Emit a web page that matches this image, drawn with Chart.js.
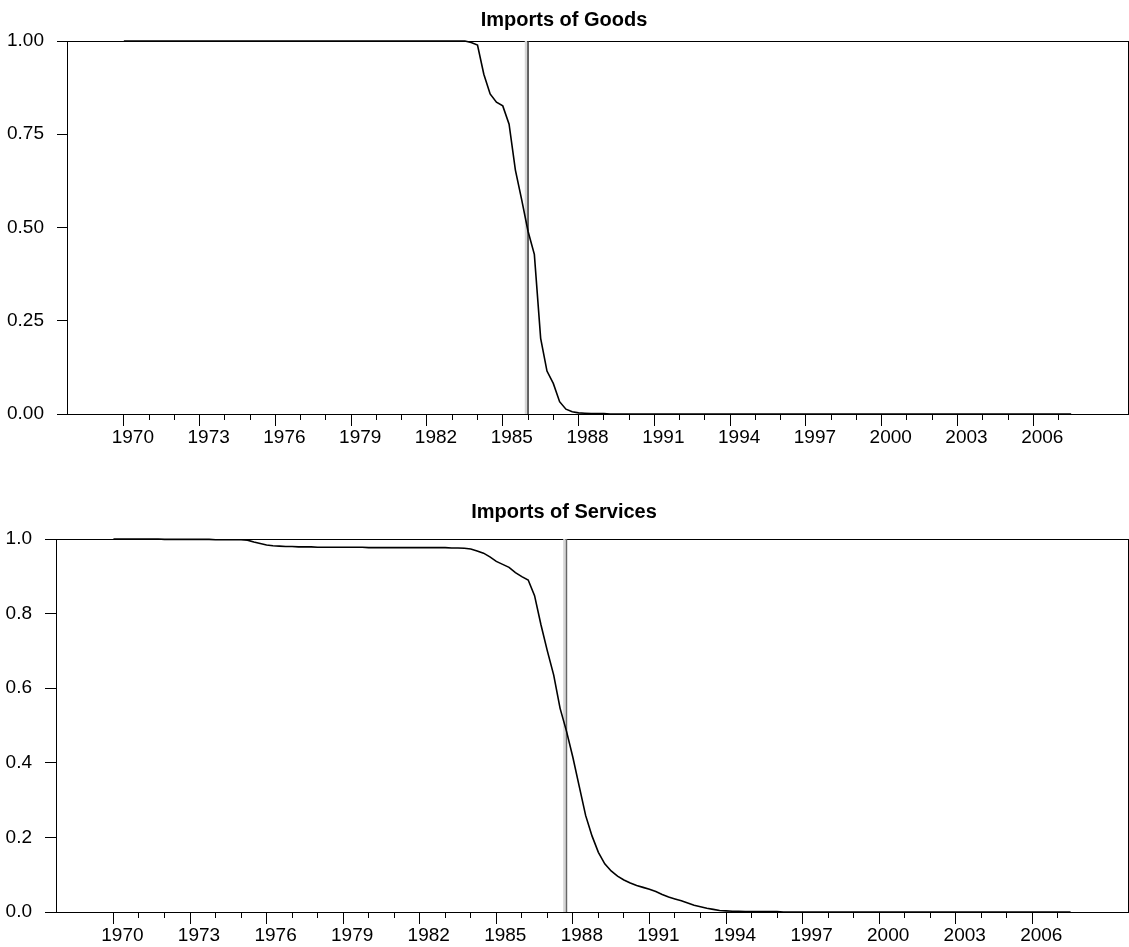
<!DOCTYPE html>
<html>
<head>
<meta charset="utf-8">
<script src="https://cdn.jsdelivr.net/npm/chart.js@4.4.1/dist/chart.umd.min.js"></script>
<style>
  html, body { margin: 0; padding: 0; background: #fff; overflow: hidden; }
  #wrap { position: relative; width: 1129px; height: 947px; }
  .panel { position: absolute; left: 0; }
  canvas { display: block; }
</style>
</head>
<body>
<div id="wrap">
  <div class="panel" style="top:0px"><canvas id="goodsChart" width="1129" height="470"></canvas></div>
  <div class="panel" style="top:467px"><canvas id="servicesChart" width="1129" height="480"></canvas></div>
</div>
<script>
// years of the quarterly sample (1970Q1 .. 2007Q3)
const sampleYears = [1970, 1971, 1972, 1973, 1974, 1975, 1976, 1977, 1978, 1979,
  1980, 1981, 1982, 1983, 1984, 1985, 1986, 1987, 1988, 1989,
  1990, 1991, 1992, 1993, 1994, 1995, 1996, 1997, 1998, 1999,
  2000, 2001, 2002, 2003, 2004, 2005, 2006, 2007];
const tickYears = sampleYears;
const labelYears = [1970, 1973, 1976, 1979, 1982, 1985, 1988, 1991, 1994, 1997, 2000, 2003, 2006];

// transition weights, four quarters per row
const goodsWeights = [
  1, 1, 1, 1,               // 1970
  1, 1, 1, 1,               // 1971
  1, 1, 1, 1,               // 1972
  1, 1, 1, 1,               // 1973
  1, 1, 1, 1,               // 1974
  1, 1, 1, 1,               // 1975
  1, 1, 1, 1,               // 1976
  1, 1, 1, 1,               // 1977
  1, 1, 1, 1,               // 1978
  1, 1, 1, 1,               // 1979
  1, 1, 1, 1,               // 1980
  1, 1, 1, 1,               // 1981
  1, 1, 1, 1,               // 1982
  1, 1, 1, 0.996,           // 1983
  0.989, 0.911, 0.858, 0.836, // 1984
  0.826, 0.777, 0.654, 0.574, // 1985
  0.490, 0.428, 0.203, 0.115, // 1986
  0.082, 0.033, 0.013, 0.006, // 1987
  0.003, 0.002, 0.001, 0.001, // 1988
  0.001, 0, 0, 0,           // 1989
  0, 0, 0, 0,               // 1990
  0, 0, 0, 0,               // 1991
  0, 0, 0, 0,               // 1992
  0, 0, 0, 0,               // 1993
  0, 0, 0, 0,               // 1994
  0, 0, 0, 0,               // 1995
  0, 0, 0, 0,               // 1996
  0, 0, 0, 0,               // 1997
  0, 0, 0, 0,               // 1998
  0, 0, 0, 0,               // 1999
  0, 0, 0, 0,               // 2000
  0, 0, 0, 0,               // 2001
  0, 0, 0, 0,               // 2002
  0, 0, 0, 0,               // 2003
  0, 0, 0, 0,               // 2004
  0, 0, 0, 0,               // 2005
  0, 0, 0, 0,               // 2006
  0, 0, 0                   // 2007
];

const servicesWeights = [
  1, 1, 1, 1,                 // 1970
  1, 1, 1, 1,                 // 1971
  0.999, 0.999, 0.999, 0.999, // 1972
  0.999, 0.999, 0.999, 0.999, // 1973
  0.998, 0.998, 0.998, 0.998, // 1974
  0.998, 0.997, 0.992, 0.988, // 1975
  0.984, 0.982, 0.981, 0.980, // 1976
  0.980, 0.979, 0.979, 0.979, // 1977
  0.978, 0.978, 0.978, 0.978, // 1978
  0.978, 0.978, 0.978, 0.978, // 1979
  0.977, 0.977, 0.977, 0.977, // 1980
  0.977, 0.977, 0.977, 0.977, // 1981
  0.977, 0.977, 0.977, 0.977, // 1982
  0.977, 0.976, 0.976, 0.975, // 1983
  0.973, 0.968, 0.962, 0.952, // 1984
  0.940, 0.932, 0.924, 0.910, // 1985
  0.899, 0.890, 0.848, 0.770, // 1986
  0.700, 0.635, 0.546, 0.485, // 1987
  0.415, 0.337, 0.259, 0.204, // 1988
  0.160, 0.129, 0.110, 0.096, // 1989
  0.086, 0.078, 0.071, 0.066, // 1990
  0.061, 0.055, 0.047, 0.040, // 1991
  0.035, 0.030, 0.024, 0.018, // 1992
  0.014, 0.010, 0.007, 0.004, // 1993
  0.003, 0.002, 0.002, 0.001, // 1994
  0.001, 0.001, 0.001, 0.001, // 1995
  0.001, 0, 0, 0,             // 1996
  0, 0, 0, 0,                 // 1997
  0, 0, 0, 0,                 // 1998
  0, 0, 0, 0,                 // 1999
  0, 0, 0, 0,                 // 2000
  0, 0, 0, 0,                 // 2001
  0, 0, 0, 0,                 // 2002
  0, 0, 0, 0,                 // 2003
  0, 0, 0, 0,                 // 2004
  0, 0, 0, 0,                 // 2005
  0, 0, 0, 0,                 // 2006
  0, 0, 0                     // 2007
];

const goodsBreak = 1986.0;
const servicesBreak = 1987.75;
const axisStart = 1967.75;
const axisEnd = 2009.75;

const fontFamily = '"Liberation Sans", Arial, Helvetica, sans-serif';

// quarter dates: year + 0, .25, .5, .75
const quarterDates = sampleYears.flatMap(y => [y, y + 0.25, y + 0.5, y + 0.75]);

// box around plot + short minor ticks on the date axis
const frameAndTicks = {
  id: 'frameAndTicks',
  beforeDatasetsDraw(chart) {
    const ctx = chart.ctx, a = chart.chartArea, x = chart.scales.x;
    ctx.save();
    ctx.strokeStyle = '#000';
    ctx.lineWidth = 1;
    ctx.strokeRect(Math.floor(a.left) + 0.5, Math.floor(a.top) + 0.5,
                   Math.floor(a.right) - Math.floor(a.left), Math.floor(a.bottom) - Math.floor(a.top));
    ctx.beginPath();
    tickYears.forEach(yr => {
      if (labelYears.includes(yr)) return;
      const px = Math.floor(x.getPixelForValue(yr)) + 0.5;
      ctx.moveTo(px, a.bottom);
      ctx.lineTo(px, a.bottom + 6);
    });
    ctx.stroke();
    ctx.restore();
  }
};

function makeChart(id, opt) {
  const points = opt.values.map((v, i) => ({ x: quarterDates[i], y: v }));
  return new Chart(document.getElementById(id), {
    type: 'line',
    data: {
      datasets: [
        { data: points, borderColor: '#000', borderWidth: 1.6, pointRadius: 0, tension: 0,
          clip: false, order: 0 },
        { data: [{ x: opt.breakYear, y: 0 }, { x: opt.breakYear, y: 1 }],
          borderColor: opt.breakColor, borderWidth: 1.5, pointRadius: 0, order: 1 },
        { data: [{ x: opt.breakYear - 0.08, y: 0 }, { x: opt.breakYear - 0.08, y: 1 }],
          borderColor: '#d6d6d6', borderWidth: 2.5, pointRadius: 0, order: 2 }
      ]
    },
    options: {
      responsive: false,
      animation: false,
      devicePixelRatio: 1,
      layout: { padding: { left: 0, right: 1, top: 0, bottom: 0 } },
      plugins: {
        legend: { display: false },
        tooltip: { enabled: false },
        title: {
          display: true,
          text: opt.title,
          color: '#000',
          font: { family: fontFamily, size: 20, weight: 'bold' },
          padding: opt.titlePad
        }
      },
      scales: {
        x: {
          type: 'linear',
          min: axisStart,
          max: axisEnd,
          afterBuildTicks: s => { s.ticks = tickYears.map(v => ({ value: v })); },
          afterFit: s => { s.height = opt.xHeight; },
          grid: {
            drawOnChartArea: false,
            drawTicks: true,
            tickLength: 12,
            tickWidth: 1,
            tickColor: c => (c.tick && labelYears.includes(c.tick.value)) ? '#000' : 'rgba(0,0,0,0)'
          },
          border: { display: true, color: '#000', width: 1 },
          ticks: {
            autoSkip: false,
            maxRotation: 0,
            minRotation: 0,
            padding: 1,
            labelOffset: 9,
            color: '#000',
            font: { family: fontFamily, size: 19, lineHeight: 1.1 },
            callback: v => labelYears.includes(v) ? String(v) : ''
          }
        },
        y: {
          min: 0,
          max: 1,
          afterFit: s => { s.width = opt.yWidth; },
          grid: { drawOnChartArea: false, drawTicks: true, tickLength: opt.yTick, color: '#000' },
          border: { display: true, color: '#000', width: 1 },
          ticks: {
            stepSize: opt.yStep,
            padding: 13,
            color: '#000',
            font: { family: fontFamily, size: 19 },
            callback: v => Number(v).toFixed(opt.yDigits)
          }
        }
      }
    },
    plugins: [frameAndTicks]
  });
}

makeChart('goodsChart', {
  title: 'Imports of Goods',
  values: goodsWeights,
  breakYear: goodsBreak,
  breakColor: '#333',
  titlePad: { top: 8, bottom: 9 },
  xHeight: 56,
  yWidth: 67,
  yTick: 10,
  yStep: 0.25,
  yDigits: 2
});

makeChart('servicesChart', {
  title: 'Imports of Services',
  values: servicesWeights,
  breakYear: servicesBreak,
  breakColor: '#666',
  titlePad: { top: 33, bottom: 15 },
  xHeight: 35,
  yWidth: 56,
  yTick: 11,
  yStep: 0.2,
  yDigits: 1
});
</script>
</body>
</html>
